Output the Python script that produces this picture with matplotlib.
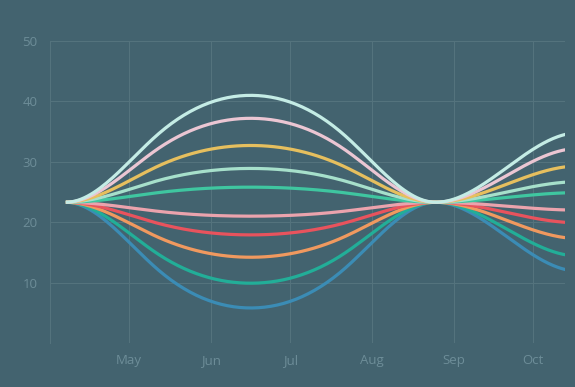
import numpy as np
import pandas as pd
import matplotlib
matplotlib.use('Agg')
import matplotlib.pyplot as plt
import matplotlib.dates as mdates

# knot dates: first hump, then the second rise
dates_a = pd.to_datetime(['2024-04-07', '2024-05-12', '2024-06-16', '2024-07-21', '2024-08-25'])
dates_b = pd.to_datetime(['2024-08-25', '2024-10-18'])

s1 = [23.3, 34.6, 41.0, 34.6, 23.3, 34.8]
s2 = [23.3, 32.2, 37.2, 32.2, 23.3, 32.2]
s3 = [23.3, 29.3, 32.7, 29.3, 23.3, 29.3]
s4 = [23.3, 26.9, 28.9, 26.9, 23.3, 26.7]
s5 = [23.3, 24.9, 25.8, 24.9, 23.3, 24.9]
s6 = [23.3, 21.8, 21.0, 21.8, 23.3, 22.0]
s7 = [23.3, 19.8, 17.9, 19.8, 23.3, 19.9]
s8 = [23.3, 17.5, 14.2, 17.5, 23.3, 17.3]
s9 = [23.3, 14.7, 9.9, 14.7, 23.3, 14.4]
s10 = [23.3, 12.1, 5.8, 12.1, 23.3, 11.9]

series = [s1, s2, s3, s4, s5, s6, s7, s8, s9, s10]
colors = ['#c4ece5', '#ebc6d3', '#e6bf5e', '#a6e0cb', '#3fc6a0',
          '#eba3ad', '#e8535d', '#f0995f', '#22ae98', '#3b8cb5']

bg = '#43636f'
grid_c = '#55747e'
text_c = '#6d8d98'


def spline(xk, yk, n=120):
    # clamped cubic spline, flat at both ends
    xk = np.asarray(xk, float)
    yk = np.asarray(yk, float)
    k = len(xk)
    h = np.diff(xk)
    d = np.diff(yk) / h
    A = np.zeros((k, k))
    b = np.zeros(k)
    A[0, 0], A[0, 1] = 2 * h[0], h[0]
    b[0] = 6 * d[0]
    A[-1, -2], A[-1, -1] = h[-1], 2 * h[-1]
    b[-1] = -6 * d[-1]
    for i in range(1, k - 1):
        A[i, i - 1] = h[i - 1]
        A[i, i] = 2 * (h[i - 1] + h[i])
        A[i, i + 1] = h[i]
        b[i] = 6 * (d[i] - d[i - 1])
    M = np.linalg.solve(A, b)
    xs = np.linspace(xk[0], xk[-1], n)
    idx = np.clip(np.searchsorted(xk, xs) - 1, 0, k - 2)
    x0, x1 = xk[idx], xk[idx + 1]
    hh = h[idx]
    ys = (M[idx] * (x1 - xs)**3 / (6 * hh) + M[idx + 1] * (xs - x0)**3 / (6 * hh)
          + (yk[idx] / hh - M[idx] * hh / 6) * (x1 - xs)
          + (yk[idx + 1] / hh - M[idx + 1] * hh / 6) * (xs - x0))
    return xs, ys


fig = plt.figure(figsize=(5.75, 3.87), dpi=100, facecolor=bg)
ax = fig.add_axes([50 / 575, 1 - 343 / 387, 515 / 575, 302 / 387])
ax.set_facecolor(bg)

xa = mdates.date2num(dates_a)
xb = mdates.date2num(dates_b)
for s, c in reversed(list(zip(series, colors))):
    x1, y1 = spline(xa, s[:5])
    x2, y2 = spline(xb, s[4:])
    ax.plot(np.concatenate([x1, x2[1:]]), np.concatenate([y1, y2[1:]]),
            color=c, lw=2.3, solid_capstyle='butt', zorder=3)

ax.set_xlim(mdates.date2num(pd.Timestamp('2024-04-01')),
            mdates.date2num(pd.Timestamp('2024-10-13')))
ax.set_ylim(0, 50)
ax.set_yticks([10, 20, 30, 40, 50])
ax.xaxis.set_major_locator(mdates.MonthLocator(bymonth=[5, 6, 7, 8, 9, 10]))
ax.xaxis.set_major_formatter(mdates.DateFormatter('%b'))

ax.grid(True, color=grid_c, lw=0.7)
ax.axhline(0, color=grid_c, lw=0.7)
ax.axhline(50, color=grid_c, lw=0.7)
for sp in ['top', 'right', 'bottom']:
    ax.spines[sp].set_visible(False)
ax.spines['left'].set_color(grid_c)
ax.spines['left'].set_linewidth(0.7)

ax.tick_params(length=0, colors=text_c, labelsize=9.5, pad=9)
for lab in ax.get_xticklabels() + ax.get_yticklabels():
    lab.set_family('Open Sans')
ax.tick_params(axis='x', pad=8)

fig.savefig('out.png', dpi=100, facecolor=bg)
